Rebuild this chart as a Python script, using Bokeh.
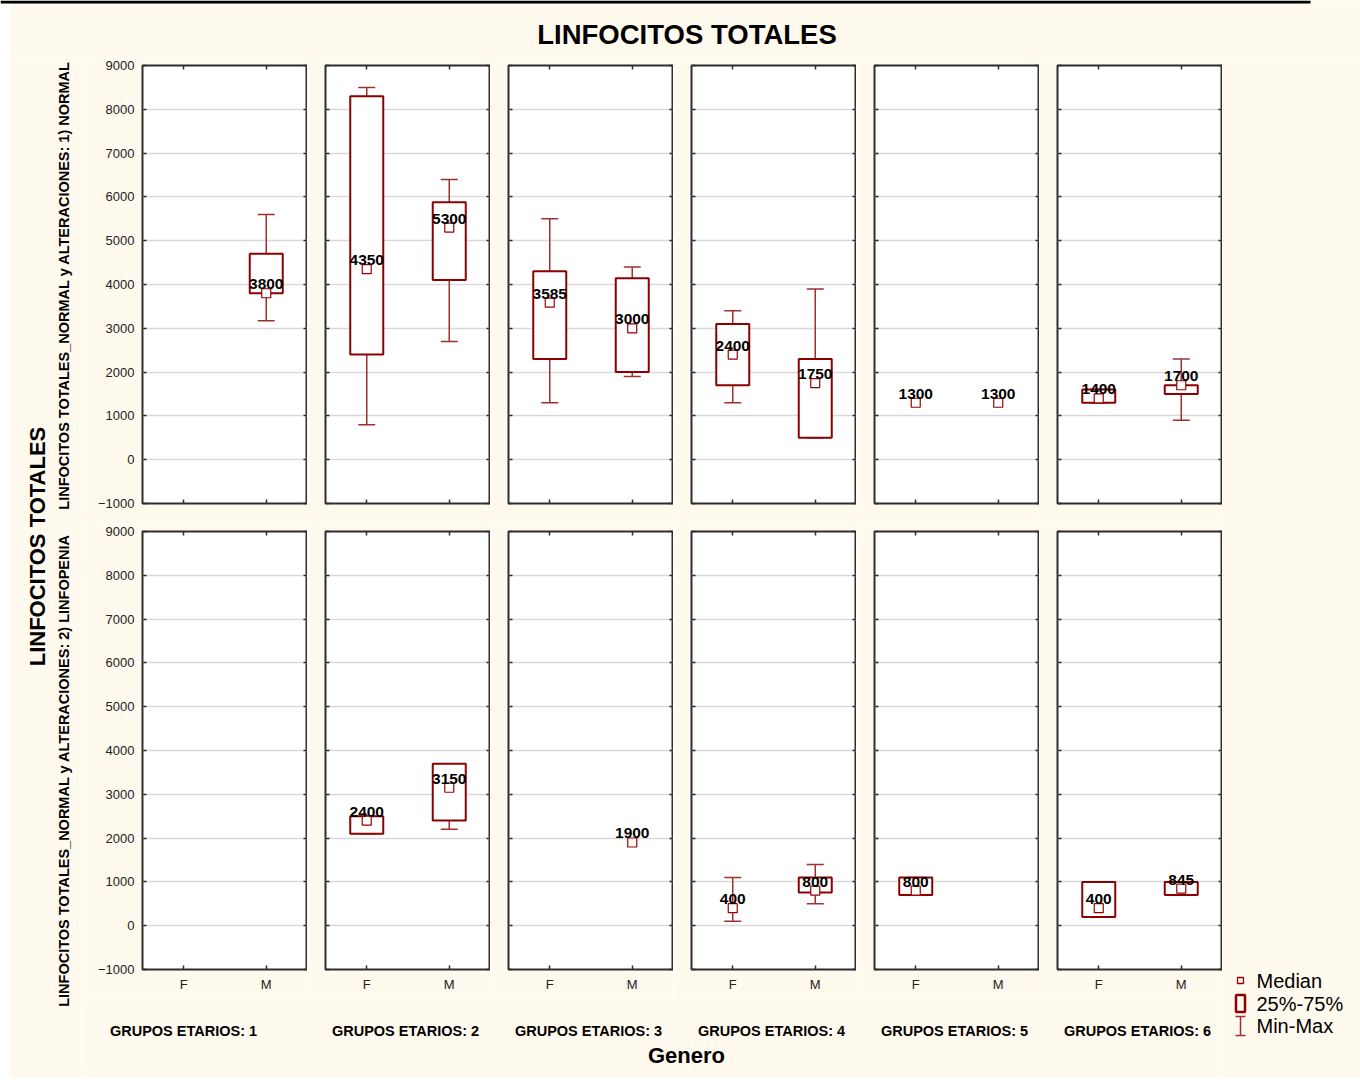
import math
from bokeh.plotting import figure
from bokeh.layouts import row, column
from bokeh.models import (Range1d, FactorRange, LinearAxis, CategoricalAxis,
                          FixedTicker, ColumnDataSource, Grid)
from bokeh.core.properties import value
from bokeh.embed import file_html
from bokeh.resources import INLINE

nan = float("nan")

# ---------------- data ----------------
title = "LINFOCITOS TOTALES"
x_title = "Genero"
groups = ["1", "2", "3", "4", "5", "6"]
genders = ["F", "M"]
strata = ["LINFOCITOS TOTALES_NORMAL y ALTERACIONES: 1) NORMAL",
          "LINFOCITOS TOTALES_NORMAL y ALTERACIONES: 2) LINFOPENIA"]
y_ticks = [-1000, 0, 1000, 2000, 3000, 4000, 5000, 6000, 7000, 8000, 9000]

# order: G1F, G1M, G2F, G2M, ..., G6F, G6M
normal_min = [nan, 3170, 800, 2700, 1300, 1900, 1300, 500, 1300, 1300, 1300, 900]
normal_q1 = [nan, 3800, 2400, 4100, 2300, 2000, 1700, 500, 1300, 1300, 1300, 1500]
normal_med = [nan, 3800, 4350, 5300, 3585, 3000, 2400, 1750, 1300, 1300, 1400, 1700]
normal_q3 = [nan, 4700, 8300, 5880, 4300, 4140, 3100, 2300, 1300, 1300, 1600, 1700]
normal_max = [nan, 5600, 8500, 6400, 5500, 4400, 3400, 3900, 1300, 1300, 1600, 2300]

linf_min = [nan, nan, 2100, 2200, nan, 1900, 100, 500, 700, nan, 200, 700]
linf_q1 = [nan, nan, 2100, 2400, nan, 1900, 400, 760, 700, nan, 200, 700]
linf_med = [nan, nan, 2400, 3150, nan, 1900, 400, 800, 800, nan, 400, 845]
linf_q3 = [nan, nan, 2500, 3700, nan, 1900, 400, 1100, 1100, nan, 1000, 1000]
linf_max = [nan, nan, 2500, 3700, nan, 1900, 1100, 1400, 1100, nan, 1000, 1000]

stats = [
    (normal_min, normal_q1, normal_med, normal_q3, normal_max),
    (linf_min, linf_q1, linf_med, linf_q3, linf_max),
]

legend_labels = ["Median", "25%-75%", "Min-Max"]

# ---------------- style ----------------
BG = "#FFF9EE"
FRAME = "#2E2E2E"
GRID = "#D9D9D9"
BOX = "#8B0000"
WHISK = "#A03030"
MED = "#990000"
FONT = "Liberation Sans"


def style_axis(ax, show):
    ax.axis_line_color = None
    ax.major_tick_in = 4
    ax.major_tick_out = 0
    ax.major_tick_line_color = FRAME
    ax.major_tick_line_width = 1.5
    ax.minor_tick_line_color = None
    ax.major_label_text_font = FONT
    if show:
        ax.major_label_text_color = "#222222"
        ax.major_label_text_font_size = "13px"
        ax.major_label_standoff = 8
    else:
        ax.major_label_text_color = None
        ax.major_label_text_font_size = "1px"
        ax.major_label_standoff = 0


def panel(s, gi):
    first = gi == 0
    bottom = s == 1
    p = figure(width=227 if first else 183, height=476 if bottom else 466,
               x_range=FactorRange(*genders), y_range=Range1d(-1000, 9000),
               x_axis_location=None, y_axis_location=None,
               toolbar_location=None, output_backend="svg",
               min_border_left=62 if first else 18, min_border_right=0,
               min_border_top=8, min_border_bottom=30 if bottom else 20,
               background_fill_color="white", border_fill_color=BG,
               outline_line_color=FRAME, outline_line_width=2)
    p.grid.visible = False
    yt = FixedTicker(ticks=y_ticks)
    for side in ["left", "right"]:
        ax = LinearAxis(ticker=yt)
        style_axis(ax, side == "left" and first)
        p.add_layout(ax, side)
    for side in ["below", "above"]:
        ax = CategoricalAxis()
        style_axis(ax, side == "below" and bottom)
        if side == "below" and bottom:
            ax.major_label_standoff = 7
        p.add_layout(ax, side)
    p.add_layout(Grid(dimension=1, ticker=yt, grid_line_color=GRID,
                      grid_line_width=1.5))

    mn, q1, md, q3, mx = stats[s]
    seg = dict(g=[], lo=[], hi=[])
    box = dict(g=[], q1=[], q3=[])
    med = dict(g=[], m=[], lab=[])
    for k, gname in enumerate(genders):
        i = gi * 2 + k
        if math.isnan(md[i]):
            continue
        med["g"].append(gname)
        med["m"].append(md[i])
        med["lab"].append(str(int(md[i])))
        if mx[i] > mn[i]:
            seg["g"].append(gname)
            seg["lo"].append(mn[i])
            seg["hi"].append(mx[i])
        if q3[i] > q1[i]:
            box["g"].append(gname)
            box["q1"].append(q1[i])
            box["q3"].append(q3[i])
    ss = ColumnDataSource(seg)
    p.segment(x0="g", x1="g", y0="lo", y1="hi", source=ss,
              line_color=WHISK, line_width=1.5)
    p.scatter(x="g", y="hi", source=ss, marker="dash", size=17,
              line_color=WHISK, line_width=1.5)
    p.scatter(x="g", y="lo", source=ss, marker="dash", size=17,
              line_color=WHISK, line_width=1.5)
    p.vbar(x="g", width=0.4, bottom="q1", top="q3", source=ColumnDataSource(box),
           fill_color="white", line_color=BOX, line_width=2)
    ms = ColumnDataSource(med)
    p.scatter(x="g", y="m", source=ms, marker="square", size=9,
              fill_color="white", line_color=MED, line_width=1.2)
    p.text(x="g", y="m", text="lab", source=ms, text_font=value(FONT),
           text_font_style="bold", text_font_size="15.5px", text_align="center",
           text_baseline="middle", y_offset=-9, text_color="black")
    return p


def blank(w, h, x0, x1, y0, y1):
    p = figure(width=w, height=h, x_range=Range1d(x0, x1), y_range=Range1d(y1, y0),
               toolbar_location=None, output_backend="svg", min_border=0,
               x_axis_location=None, y_axis_location=None,
               border_fill_color=BG, background_fill_color=BG,
               outline_line_color=None)
    p.grid.visible = False
    return p


# title strip (page x 0..1360, y 0..57)
title_fig = blank(1360, 57, 0, 1360, 0, 57)
title_fig.quad(left=[0], right=[10], bottom=[57], top=[0], fill_color="white",
               line_color=None)
title_fig.segment(x0=[0], x1=[1310], y0=[1.5], y1=[1.5], line_color="black",
                  line_width=3)
title_fig.text(x=[686.5], y=[34], text=[title], text_font=value(FONT),
               text_font_style="bold", text_font_size="27.5px",
               text_align="center", text_baseline="middle", text_color="black")

# left labels (page x 0..80, y 57..1078)
left_fig = blank(80, 1021, 0, 80, 57, 1078)
left_fig.quad(left=[0], right=[10], bottom=[1078], top=[57], fill_color="white",
              line_color=None)
left_fig.text(x=[37], y=[546], text=[title], angle=math.pi / 2,
              text_font=value(FONT), text_font_style="bold", text_font_size="22px",
              text_align="center", text_baseline="middle", text_color="black")
left_fig.text(x=[63, 63], y=[285, 770], text=strata, angle=math.pi / 2,
              text_font=value(FONT), text_font_style="bold", text_font_size="14.5px",
              text_align="center", text_baseline="middle", text_color="black")

# panels
top_row = row(*[panel(0, gi) for gi in range(6)])
bot_row = row(*[panel(1, gi) for gi in range(6)])

# bottom strip (page x 80..1222, y 999..1078)
strip = blank(1142, 79, 80, 1222, 999, 1078)
grp_x = [183, 405, 588, 771, 954, 1137]
strip.text(x=grp_x, y=[1030] * 6, text=["GRUPOS ETARIOS: " + g for g in groups],
           text_font=value(FONT), text_font_style="bold", text_font_size="14.5px",
           text_align="center", text_baseline="middle", text_color="black")
strip.text(x=[686], y=[1055], text=[x_title], text_font=value(FONT),
           text_font_style="bold", text_font_size="22px",
           text_align="center", text_baseline="middle", text_color="black")

# legend (page x 1222..1360, y 57..1078)
right_fig = blank(138, 1021, 1222, 1360, 57, 1078)
right_fig.scatter(x=[1240], y=[980], marker="square", size=6, fill_color=None,
                  line_color=MED, line_width=1.3)
right_fig.rect(x=[1240], y=[1003], width=9, height=17, fill_color=None,
               line_color=BOX, line_width=2.5)
right_fig.segment(x0=[1240, 1235, 1235], x1=[1240, 1245, 1245],
                  y0=[1016, 1016, 1035], y1=[1035, 1016, 1035],
                  line_color=WHISK, line_width=1.5)
right_fig.text(x=[1256] * 3, y=[980, 1003, 1025], text=legend_labels,
               text_font=value(FONT), text_font_size="20px",
               text_align="left", text_baseline="middle", text_color="black")

layout = column(title_fig,
                row(left_fig, column(top_row, bot_row, strip), right_fig))

open("out.html", "w").write(file_html(layout, INLINE))
